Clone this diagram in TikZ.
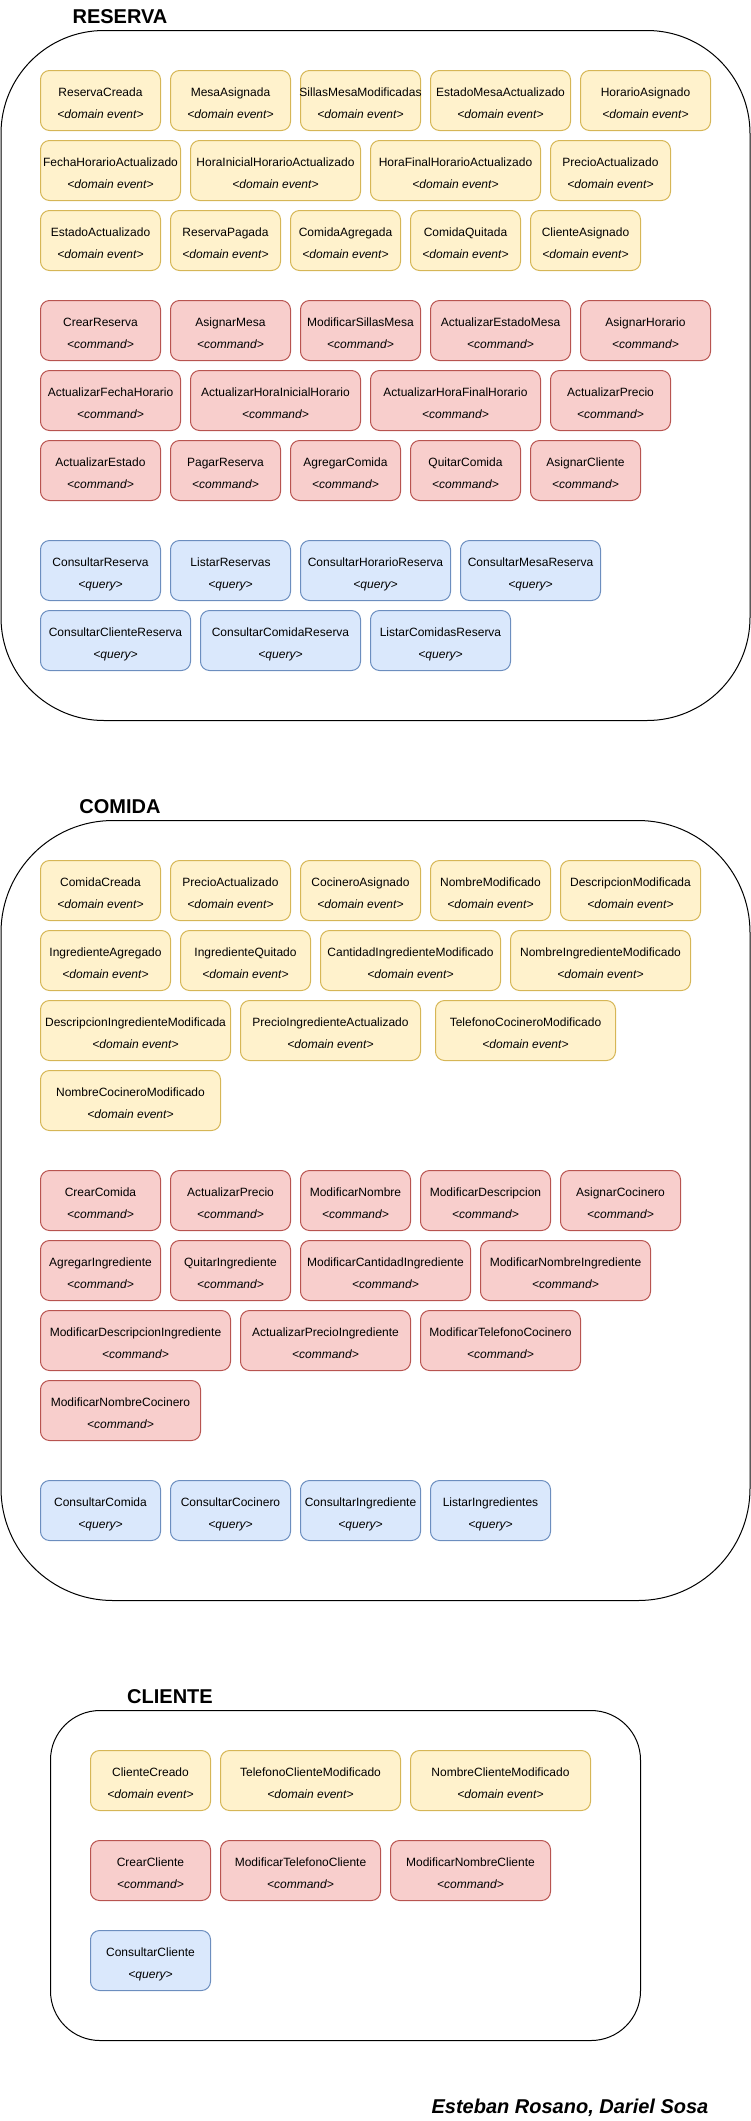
\documentclass[tikz,border=0pt]{standalone}
\usepackage{fontspec}
\setmainfont{Liberation Sans}
\usetikzlibrary{positioning}
\definecolor{evfill}{HTML}{FFF2CC}
\definecolor{evline}{HTML}{D6B656}
\definecolor{cmfill}{HTML}{F8CECC}
\definecolor{cmline}{HTML}{B85450}
\definecolor{qyfill}{HTML}{DAE8FC}
\definecolor{qyline}{HTML}{6C8EBF}
\tikzset{
  basebox/.style={rounded corners=9pt, line width=1pt, minimum height=60pt, inner sep=0pt},
  evt/.style={basebox, fill=evfill, draw=evline},
  cmd/.style={basebox, fill=cmfill, draw=cmline},
  qry/.style={basebox, fill=qyfill, draw=qyline},
  boxtext/.style={font=\fontsize{12}{14}\selectfont, inner sep=0pt, text=black},
  boxsub/.style={font=\fontsize{12}{14}\selectfont\itshape, inner sep=0pt, text=black},
  container/.style={draw=black, line width=1pt, inner sep=0pt},
  title/.style={font=\fontsize{20}{24}\selectfont\bfseries, inner sep=0pt, anchor=base},
}
\newcommand{\ddbox}[7]{%
  \node[#1, minimum width=#5pt, anchor=north west] (#2) at (#3,#4) {};
  \node[boxtext, anchor=base] (#2-t) at ([yshift=-26pt]#2.north) {#6};
  \node[boxsub, anchor=base] (#2-s) at ([yshift=-48pt]#2.north) {<#7>};
}
\newcommand{\dev}[5]{\ddbox{evt}{#1}{#2}{#3}{#4}{#5}{domain event}}
\newcommand{\dcm}[5]{\ddbox{cmd}{#1}{#2}{#3}{#4}{#5}{command}}
\newcommand{\dqy}[5]{\ddbox{qry}{#1}{#2}{#3}{#4}{#5}{query}}
\begin{document}
\begin{tikzpicture}[x=1pt, y=-1pt]
\useasboundingbox (0,0) rectangle (751,2121);

% ---------------- RESERVA ----------------
\node[title] (tres) at (120,23.3) {RESERVA};
\node[container, minimum width=749pt, minimum height=690pt, rounded corners=103pt, anchor=north west] (reserva) at (0.5,30) {};

\dev{re1}{40}{70}{120}{ReservaCreada}
\dev{re2}{170}{70}{120}{MesaAsignada}
\dev{re3}{300}{70}{120}{SillasMesaModificadas}
\dev{re4}{430}{70}{140}{EstadoMesaActualizado}
\dev{re5}{580}{70}{130}{HorarioAsignado}
\dev{re6}{40}{140}{140}{FechaHorarioActualizado}
\dev{re7}{190}{140}{170}{HoraInicialHorarioActualizado}
\dev{re8}{370}{140}{170}{HoraFinalHorarioActualizado}
\dev{re9}{550}{140}{120}{PrecioActualizado}
\dev{re10}{40}{210}{120}{EstadoActualizado}
\dev{re11}{170}{210}{110}{ReservaPagada}
\dev{re12}{290}{210}{110}{ComidaAgregada}
\dev{re13}{410}{210}{110}{ComidaQuitada}
\dev{re14}{530}{210}{110}{ClienteAsignado}

\dcm{rc1}{40}{300}{120}{CrearReserva}
\dcm{rc2}{170}{300}{120}{AsignarMesa}
\dcm{rc3}{300}{300}{120}{ModificarSillasMesa}
\dcm{rc4}{430}{300}{140}{ActualizarEstadoMesa}
\dcm{rc5}{580}{300}{130}{AsignarHorario}
\dcm{rc6}{40}{370}{140}{ActualizarFechaHorario}
\dcm{rc7}{190}{370}{170}{ActualizarHoraInicialHorario}
\dcm{rc8}{370}{370}{170}{ActualizarHoraFinalHorario}
\dcm{rc9}{550}{370}{120}{ActualizarPrecio}
\dcm{rc10}{40}{440}{120}{ActualizarEstado}
\dcm{rc11}{170}{440}{110}{PagarReserva}
\dcm{rc12}{290}{440}{110}{AgregarComida}
\dcm{rc13}{410}{440}{110}{QuitarComida}
\dcm{rc14}{530}{440}{110}{AsignarCliente}

\dqy{rq1}{40}{540}{120}{ConsultarReserva}
\dqy{rq2}{170}{540}{120}{ListarReservas}
\dqy{rq3}{300}{540}{150}{ConsultarHorarioReserva}
\dqy{rq4}{460}{540}{140}{ConsultarMesaReserva}
\dqy{rq5}{40}{610}{150}{ConsultarClienteReserva}
\dqy{rq6}{200}{610}{160}{ConsultarComidaReserva}
\dqy{rq7}{370}{610}{140}{ListarComidasReserva}

% ---------------- COMIDA ----------------
\node[title] (tcom) at (120,813) {COMIDA};
\node[container, minimum width=749pt, minimum height=780pt, rounded corners=112pt, anchor=north west] (comida) at (0.5,820) {};

\dev{ce1}{40}{860}{120}{ComidaCreada}
\dev{ce2}{170}{860}{120}{PrecioActualizado}
\dev{ce3}{300}{860}{120}{CocineroAsignado}
\dev{ce4}{430}{860}{120}{NombreModificado}
\dev{ce5}{560}{860}{140}{DescripcionModificada}
\dev{ce6}{40}{930}{130}{IngredienteAgregado}
\dev{ce7}{180}{930}{130}{IngredienteQuitado}
\dev{ce8}{320}{930}{180}{CantidadIngredienteModificado}
\dev{ce9}{510}{930}{180}{NombreIngredienteModificado}
\dev{ce10}{40}{1000}{190}{DescripcionIngredienteModificada}
\dev{ce11}{240}{1000}{180}{PrecioIngredienteActualizado}
\dev{ce12}{435}{1000}{180}{TelefonoCocineroModificado}
\dev{ce13}{40}{1070}{180}{NombreCocineroModificado}

\dcm{cc1}{40}{1170}{120}{CrearComida}
\dcm{cc2}{170}{1170}{120}{ActualizarPrecio}
\dcm{cc3}{300}{1170}{110}{ModificarNombre}
\dcm{cc4}{420}{1170}{130}{ModificarDescripcion}
\dcm{cc5}{560}{1170}{120}{AsignarCocinero}
\dcm{cc6}{40}{1240}{120}{AgregarIngrediente}
\dcm{cc7}{170}{1240}{120}{QuitarIngrediente}
\dcm{cc8}{300}{1240}{170}{ModificarCantidadIngrediente}
\dcm{cc9}{480}{1240}{170}{ModificarNombreIngrediente}
\dcm{cc10}{40}{1310}{190}{ModificarDescripcionIngrediente}
\dcm{cc11}{240}{1310}{170}{ActualizarPrecioIngrediente}
\dcm{cc12}{420}{1310}{160}{ModificarTelefonoCocinero}
\dcm{cc13}{40}{1380}{160}{ModificarNombreCocinero}

\dqy{cq1}{40}{1480}{120}{ConsultarComida}
\dqy{cq2}{170}{1480}{120}{ConsultarCocinero}
\dqy{cq3}{300}{1480}{120}{ConsultarIngrediente}
\dqy{cq4}{430}{1480}{120}{ListarIngredientes}

% ---------------- CLIENTE ----------------
\node[title] (tcli) at (170,1703) {CLIENTE};
\node[container, minimum width=590pt, minimum height=330pt, rounded corners=49.5pt, anchor=north west] (cliente) at (50,1710) {};

\dev{le1}{90}{1750}{120}{ClienteCreado}
\dev{le2}{220}{1750}{180}{TelefonoClienteModificado}
\dev{le3}{410}{1750}{180}{NombreClienteModificado}
\dcm{lc1}{90}{1840}{120}{CrearCliente}
\dcm{lc2}{220}{1840}{160}{ModificarTelefonoCliente}
\dcm{lc3}{390}{1840}{160}{ModificarNombreCliente}
\dqy{lq1}{90}{1930}{120}{ConsultarCliente}

% ---------------- author ----------------
\node[font=\fontsize{20}{24}\selectfont\bfseries\itshape, inner sep=0pt, anchor=base] (author) at (570,2113) {Esteban Rosano, Dariel Sosa};
\end{tikzpicture}
\end{document}
